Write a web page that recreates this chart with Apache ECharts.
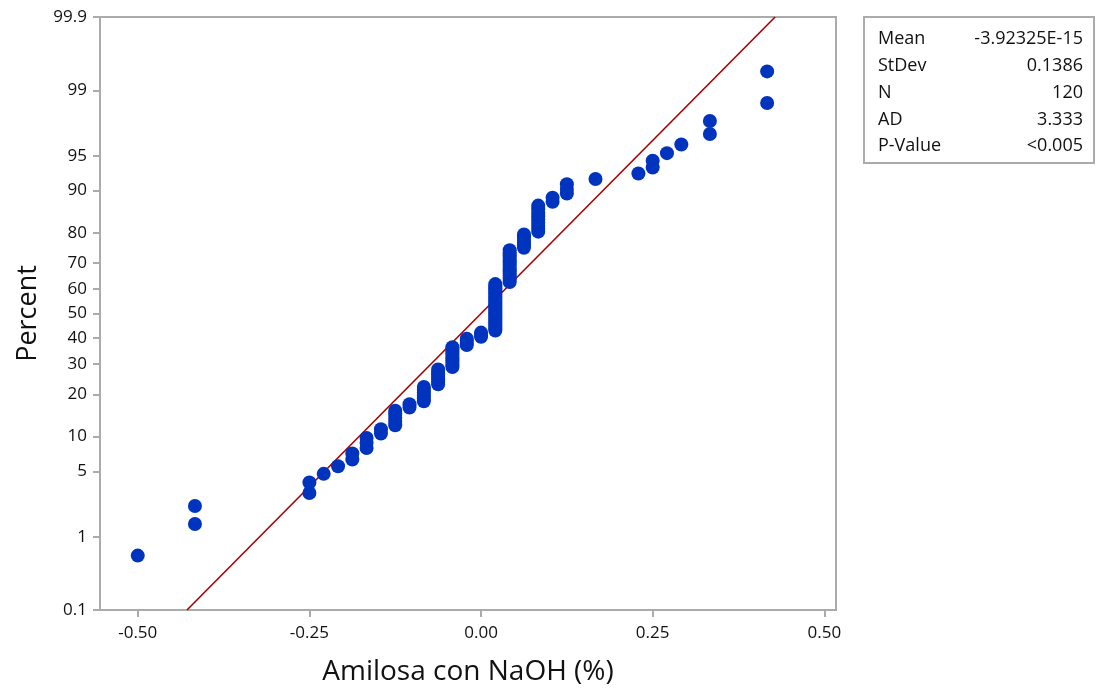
<!DOCTYPE html>
<html>
<head>
<meta charset="utf-8">
<script src="https://cdn.jsdelivr.net/npm/echarts@6/dist/echarts.min.js"></script>
<style>
  html, body { margin: 0; padding: 0; background: #ffffff; }
  #chart { width: 1101px; height: 691px; }
</style>
</head>
<body>
<div id="chart"></div>
<script>
// Residual values of amylose (NaOH method) and how many observations share each value
const residualValues = [-0.5, -0.4167, -0.25, -0.2292, -0.2083, -0.1875, -0.1667, -0.1458, -0.125, -0.1042,
  -0.0833, -0.0625, -0.0417, -0.0208, 0, 0.0208, 0.0417, 0.0625, 0.0833, 0.1042,
  0.125, 0.1667, 0.2292, 0.25, 0.2708, 0.2917, 0.3333, 0.4167];
const residualCounts = [1, 2, 2, 1, 1, 2, 3, 2, 5, 2,
  6, 7, 10, 4, 3, 24, 15, 6, 9, 2,
  3, 1, 1, 2, 1, 1, 2, 2];

// Probability-scale ticks (percent) and x-axis ticks
const percentTicks = [0.1, 1, 5, 10, 20, 30, 40, 50, 60, 70, 80, 90, 95, 99, 99.9];
const xTicks = [-0.5, -0.25, 0, 0.25, 0.5];

// Summary statistics shown in the box
const statLabels = ['Mean', 'StDev', 'N', 'AD', 'P-Value'];
const statValues = ['-3.92325E-15', '0.1386', '120', '3.333', '<0.005'];
const fitMean = -3.92325e-15;
const fitSd = 0.1386;

// Inverse standard normal CDF (Acklam's rational approximation)
function normInv(p) {
  const a = [-3.969683028665376e+01, 2.209460984245205e+02, -2.759285104469687e+02, 1.383577518672690e+02, -3.066479806614716e+01, 2.506628277459239e+00];
  const b = [-5.447609879822406e+01, 1.615858368580409e+02, -1.556989798598866e+02, 6.680131188771972e+01, -1.328068155288572e+01];
  const c = [-7.784894002430293e-03, -3.223964580411365e-01, -2.400758277161838e+00, -2.549732539343734e+00, 4.374664141464968e+00, 2.938163982698783e+00];
  const d = [7.784695709041462e-03, 3.224671290700398e-01, 2.445134137142996e+00, 3.754408661907416e+00];
  const pl = 0.02425, ph = 1 - pl;
  let q, r;
  if (p < pl) {
    q = Math.sqrt(-2 * Math.log(p));
    return (((((c[0]*q+c[1])*q+c[2])*q+c[3])*q+c[4])*q+c[5]) / ((((d[0]*q+d[1])*q+d[2])*q+d[3])*q+1);
  }
  if (p <= ph) {
    q = p - 0.5; r = q * q;
    return (((((a[0]*r+a[1])*r+a[2])*r+a[3])*r+a[4])*r+a[5])*q / (((((b[0]*r+b[1])*r+b[2])*r+b[3])*r+b[4])*r+1);
  }
  q = Math.sqrt(-2 * Math.log(1 - p));
  return -(((((c[0]*q+c[1])*q+c[2])*q+c[3])*q+c[4])*q+c[5]) / ((((d[0]*q+d[1])*q+d[2])*q+d[3])*q+1);
}

// Sorted observations with median-rank plotting positions on the normal scale
const observations = [];
residualValues.forEach((v, k) => {
  for (let j = 0; j < residualCounts[k]; j++) observations.push(v);
});
const n = observations.length;
const points = observations.map((v, idx) => {
  const p = (idx + 1 - 0.3) / (n + 0.4);
  return [v, normInv(p)];
});

const zMin = normInv(percentTicks[0] / 100);
const zMax = normInv(percentTicks[percentTicks.length - 1] / 100);
const zTicks = percentTicks.map(p => normInv(p / 100));
const fitLine = [[fitMean + fitSd * zMin, zMin], [fitMean + fitSd * zMax, zMax]];

const FONT = 'Open Sans';
const AXIS_GRAY = '#ababab';
const TEXT = '#111111';

const chart = echarts.init(document.getElementById('chart'), null, { renderer: 'canvas' });

const statTexts = [];
statLabels.forEach((lab, k) => {
  const y = 42 + k * 26.8;
  statTexts.push({
    type: 'text', left: 878, top: y - 12,
    style: { text: lab, font: '18px "' + FONT + '"', fill: TEXT }
  });
  statTexts.push({
    type: 'text', right: 1101 - 1083, top: y - 12,
    style: { text: statValues[k], font: '18px "' + FONT + '"', fill: TEXT, textAlign: 'right' }
  });
});

chart.setOption({
  animation: false,
  backgroundColor: '#ffffff',
  grid: {
    left: 100, right: 265, top: 17, bottom: 81,
    show: true, borderColor: AXIS_GRAY, borderWidth: 2, backgroundColor: '#ffffff'
  },
  xAxis: {
    type: 'value',
    min: -0.555, max: 0.517,
    name: 'Amilosa con NaOH (%)',
    nameLocation: 'middle', nameGap: 48,
    nameTextStyle: { fontFamily: FONT, fontSize: 28, color: TEXT },
    axisLine: { show: true, onZero: false, lineStyle: { color: AXIS_GRAY, width: 2 } },
    axisTick: { show: true, length: 7, customValues: xTicks, lineStyle: { color: AXIS_GRAY, width: 2 } },
    axisLabel: {
      customValues: xTicks, margin: 15,
      fontFamily: FONT, fontSize: 17, color: TEXT,
      formatter: v => v.toFixed(2)
    },
    splitLine: { show: false }
  },
  yAxis: {
    type: 'value',
    min: zMin, max: zMax,
    name: 'Percent',
    nameLocation: 'middle', nameGap: 58,
    nameTextStyle: { fontFamily: FONT, fontSize: 27, color: TEXT },
    axisLine: { show: true, onZero: false, lineStyle: { color: AXIS_GRAY, width: 2 } },
    axisTick: { show: true, length: 7, customValues: zTicks, lineStyle: { color: AXIS_GRAY, width: 2 } },
    axisLabel: {
      customValues: zTicks, margin: 13,
      fontFamily: FONT, fontSize: 17, color: TEXT,
      formatter: v => {
        let best = 0;
        zTicks.forEach((z, k) => { if (Math.abs(z - v) < Math.abs(zTicks[best] - v)) best = k; });
        return String(percentTicks[best]);
      }
    },
    splitLine: { show: false }
  },
  series: [
    {
      type: 'line',
      data: fitLine,
      showSymbol: false,
      lineStyle: { color: '#a80000', width: 1.6 },
      z: 2
    },
    {
      type: 'scatter',
      data: points,
      symbol: 'circle',
      symbolSize: 14,
      itemStyle: { color: '#0034bf', opacity: 1 },
      z: 3
    }
  ],
  graphic: [
    {
      type: 'rect',
      shape: { x: 864, y: 17, width: 230, height: 146 },
      style: { fill: '#ffffff', stroke: AXIS_GRAY, lineWidth: 2 }
    }
  ].concat(statTexts)
});
</script>
</body>
</html>
